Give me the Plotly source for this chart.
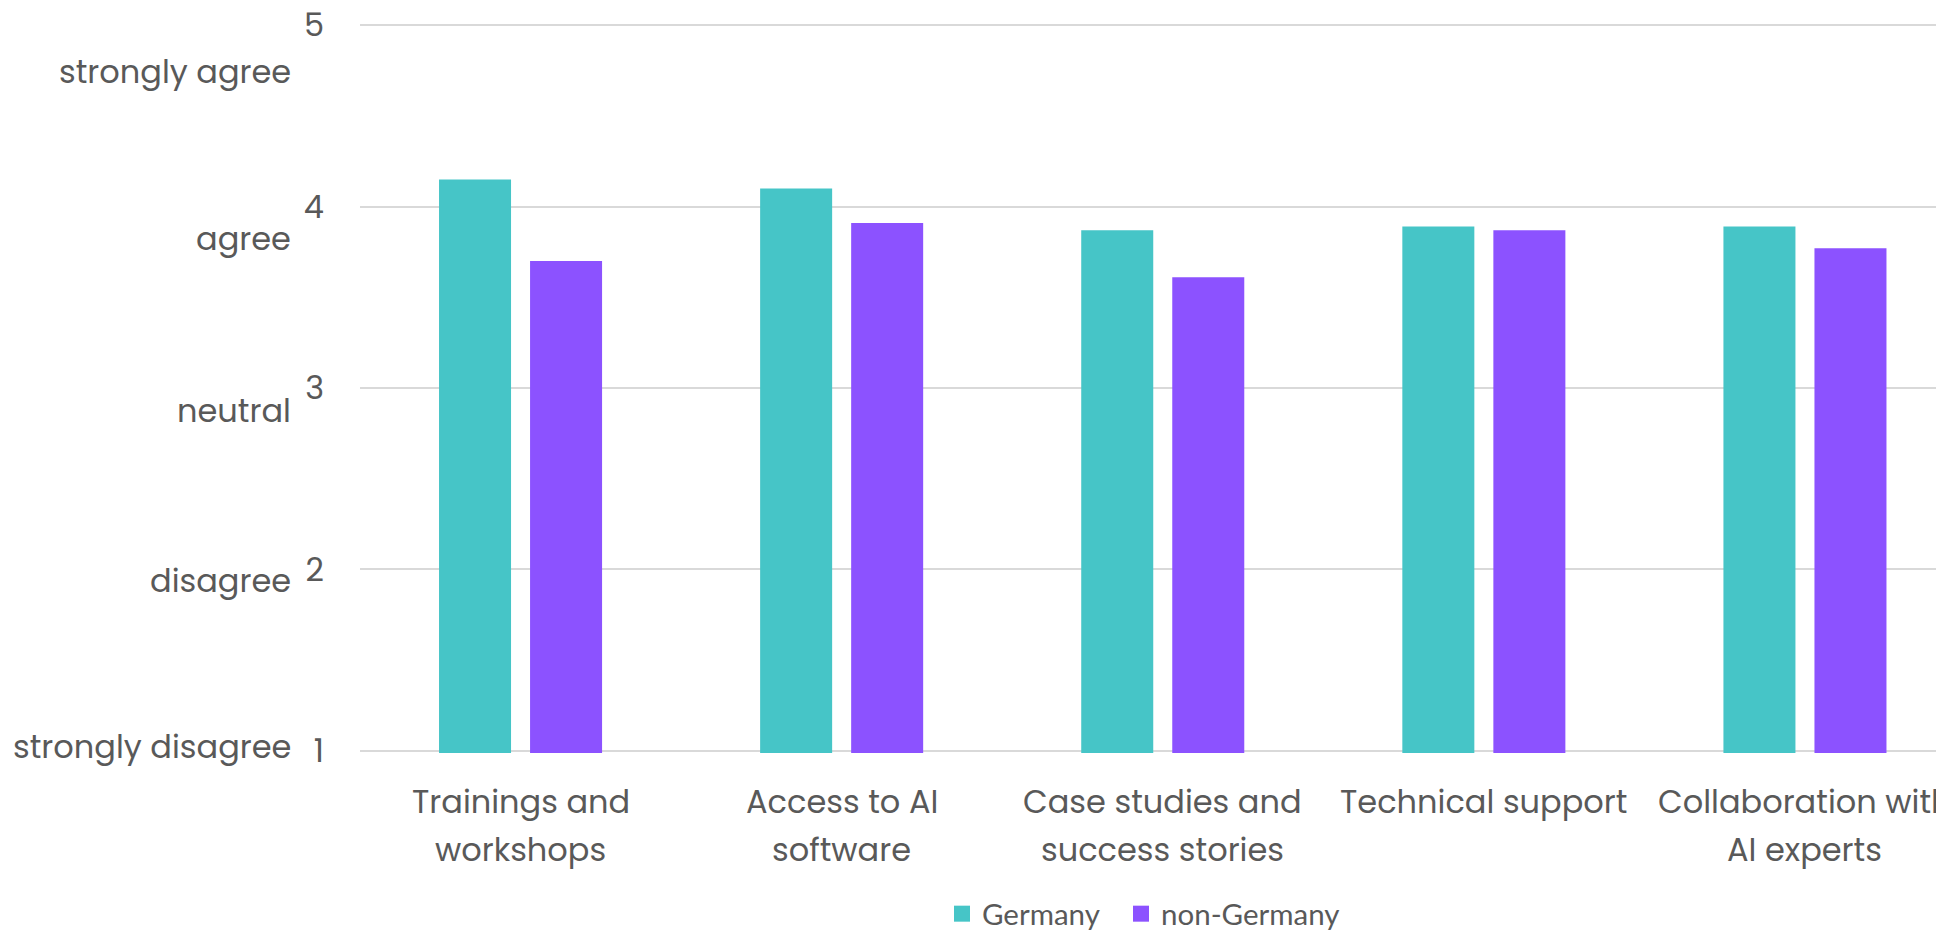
import plotly.graph_objects as go

categories = [
    "Trainings and<br>workshops",
    "Access to AI<br>software",
    "Case studies and<br>success stories",
    "Technical support",
    "Collaboration with<br>AI experts",
]
germany = [4.15, 4.10, 3.87, 3.89, 3.89]
non_germany = [3.70, 3.91, 3.61, 3.87, 3.77]

y_ticks = [1, 2, 3, 4, 5]
y_tick_text = ["1", "2", "3", "4", "5"]
scale_labels = ["strongly disagree", "disagree", "neutral", "agree", "strongly agree"]

TEAL = "#46C5C7"
PURPLE = "#8C52FF"
TEXT = "#595959"
FONT = "Poppins, Inter, 'Open Sans', sans-serif"
LEGEND_FONT = "Lato, 'Open Sans', sans-serif"

W, H = 1944, 931
L, T, B = 352, 15, 186
PLOT_W = W - L
CAT_STEP = 321.1  # px per category

xs = list(range(len(categories)))

fig = go.Figure()
fig.add_trace(go.Bar(name="Germany", x=xs, y=germany, showlegend=False,
                     marker=dict(color=TEAL, line=dict(width=0))))
fig.add_trace(go.Bar(name="non-Germany", x=xs, y=non_germany, showlegend=False,
                     marker=dict(color=PURPLE, line=dict(width=0))))
# legend entries (square swatches), one legend box each for exact spacing
fig.add_trace(go.Scatter(name="Germany", x=[None], y=[None], mode="markers",
                         marker=dict(symbol="square", size=18, color=TEAL),
                         legend="legend"))
fig.add_trace(go.Scatter(name="non-Germany", x=[None], y=[None], mode="markers",
                         marker=dict(symbol="square", size=18, color=PURPLE),
                         legend="legend2"))

annotations = []
# category labels, one annotation per line (wide line spacing as in reference)
for i, cat in enumerate(categories):
    for j, line in enumerate(cat.split("<br>")):
        annotations.append(dict(
            x=i, xref="x", y=0, yref="paper", text=line, showarrow=False,
            xanchor="center", yanchor="middle", yshift=-48 - 48 * j,
            font=dict(family=FONT, size=32, color=TEXT)))

# descriptive scale labels beside the numeric ticks
label_shift = {1: 4, 2: -11, 3: -22, 4: -32, 5: -46}
for v, lab in zip(y_ticks, scale_labels):
    annotations.append(dict(
        x=0, xref="paper", xshift=-67, y=v, yref="y", yshift=label_shift[v],
        text=lab, showarrow=False, xanchor="right", yanchor="middle",
        font=dict(family=FONT, size=32, color=TEXT)))

legend_common = dict(orientation="h", xanchor="left",
                     yref="container", y=1 - 906 / H, yanchor="middle",
                     font=dict(family=LEGEND_FONT, size=29.5, color=TEXT),
                     bgcolor="rgba(0,0,0,0)")

fig.update_layout(
    width=W, height=H,
    margin=dict(l=L, r=0, t=T, b=B, pad=0, autoexpand=False),
    paper_bgcolor="white", plot_bgcolor="white",
    barmode="group", bargap=0.433, bargroupgap=0.209,
    showlegend=True,
    legend=dict(x=(934 - L) / PLOT_W, **legend_common),
    legend2=dict(x=(1113 - L) / PLOT_W, **legend_common),
    xaxis=dict(range=[-0.5, -0.5 + PLOT_W / CAT_STEP], showticklabels=False,
               showgrid=False, zeroline=False, showline=False, fixedrange=True),
    yaxis=dict(range=[0.988, 5.012], tickvals=y_ticks, ticktext=y_tick_text,
               showgrid=True, gridcolor="#d9d9d9", gridwidth=1.5,
               zeroline=False, showline=False, ticks="",
               ticklabelstandoff=35, ticklabeloverflow="allow",
               tickfont=dict(family=FONT, size=32, color=TEXT)),
    annotations=annotations,
)

fig.write_html("out.html")
